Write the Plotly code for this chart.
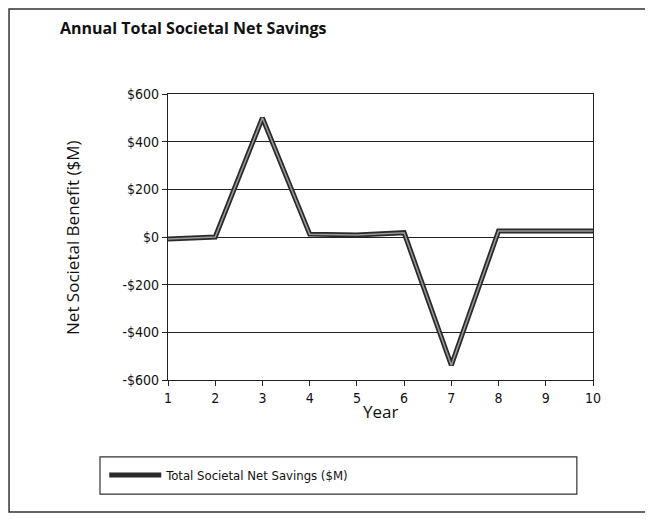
import plotly.graph_objects as go

# Annual total societal net savings ($M)
years = [1, 2, 3, 4, 5, 6, 7, 8, 9, 10]
net_savings = [-8, 0, 500, 12, 8, 18, -538, 25, 25, 25]

y_ticks = [-600, -400, -200, 0, 200, 400, 600]
y_tick_labels = ["-$600", "-$400", "-$200", "$0", "$200", "$400", "$600"]

FONT = "Open Sans"
NARROW = "Liberation Sans Narrow, DejaVu Sans Condensed, Roboto, Open Sans"

fig = go.Figure()

# Outer dark stroke of the double line
fig.add_trace(
    go.Scatter(
        x=years,
        y=net_savings,
        mode="lines",
        line=dict(color="#2a2a2a", width=5),
        name="Total Societal Net Savings ($M)",
        showlegend=True,
    )
)
# Lighter inner stroke
fig.add_trace(
    go.Scatter(
        x=years,
        y=net_savings,
        mode="lines",
        line=dict(color="#9a9a9a", width=1.5),
        showlegend=False,
        hoverinfo="skip",
    )
)

# page body has an 8px margin, so the figure is a bit smaller than the window
fig.update_layout(
    width=645,
    height=511,
    margin=dict(l=160, r=60, t=86, b=139),
    paper_bgcolor="white",
    plot_bgcolor="white",
    font=dict(family=NARROW, color="#111", size=14),
    title=dict(
        text="<b>Annual Total Societal Net Savings</b>",
        x=52 / 645,
        xanchor="left",
        y=1 - 20 / 511,
        yanchor="middle",
        font=dict(family=FONT, size=16, color="#111"),
    ),
    showlegend=True,
    legend=dict(
        x=-0.15,
        xanchor="left",
        y=-0.332,
        yanchor="middle",
        orientation="h",
        itemwidth=52,
        bgcolor="rgba(0,0,0,0)",
        font=dict(family=NARROW, size=13, color="#111"),
    ),
    shapes=[
        # outer frame
        dict(
            type="rect", xref="paper", yref="paper",
            x0=-0.374, x1=1.134, y0=-0.4615, y1=1.297,
            line=dict(color="#333", width=1.5),
        ),
        # legend box
        dict(
            type="rect", xref="paper", yref="paper",
            x0=-0.16, x1=0.962, y0=-0.399, y1=-0.269,
            line=dict(color="#333", width=1.2),
        ),
    ],
    annotations=[
        dict(
            text="Net Societal Benefit ($M)",
            xref="paper", yref="paper",
            x=-0.226, y=0.5,
            xanchor="center",
            yanchor="middle",
            textangle=-90,
            showarrow=False,
            font=dict(family=FONT, size=17, color="#111"),
        ),
        dict(
            text="Year",
            xref="paper", yref="paper",
            x=0.5, y=-0.11,
            xanchor="center",
            yanchor="middle",
            showarrow=False,
            font=dict(family=FONT, size=17, color="#111"),
        ),
    ],
)

fig.update_xaxes(
    range=[1, 10],
    tickvals=years,
    ticks="outside",
    ticklen=5,
    tickcolor="#222",
    showgrid=False,
    showline=True,
    linecolor="#222",
    linewidth=1.2,
    mirror=True,
    zeroline=False,
    tickfont=dict(family=NARROW, size=14),
)

fig.update_yaxes(
    range=[-600, 600],
    tickvals=y_ticks,
    ticktext=y_tick_labels,
    ticks="outside",
    ticklen=5,
    tickcolor="#222",
    showgrid=True,
    gridcolor="#222",
    gridwidth=1,
    showline=True,
    linecolor="#222",
    linewidth=1.2,
    mirror=True,
    zeroline=False,
    tickfont=dict(family=NARROW, size=14),
)

fig.write_html("out.html")
